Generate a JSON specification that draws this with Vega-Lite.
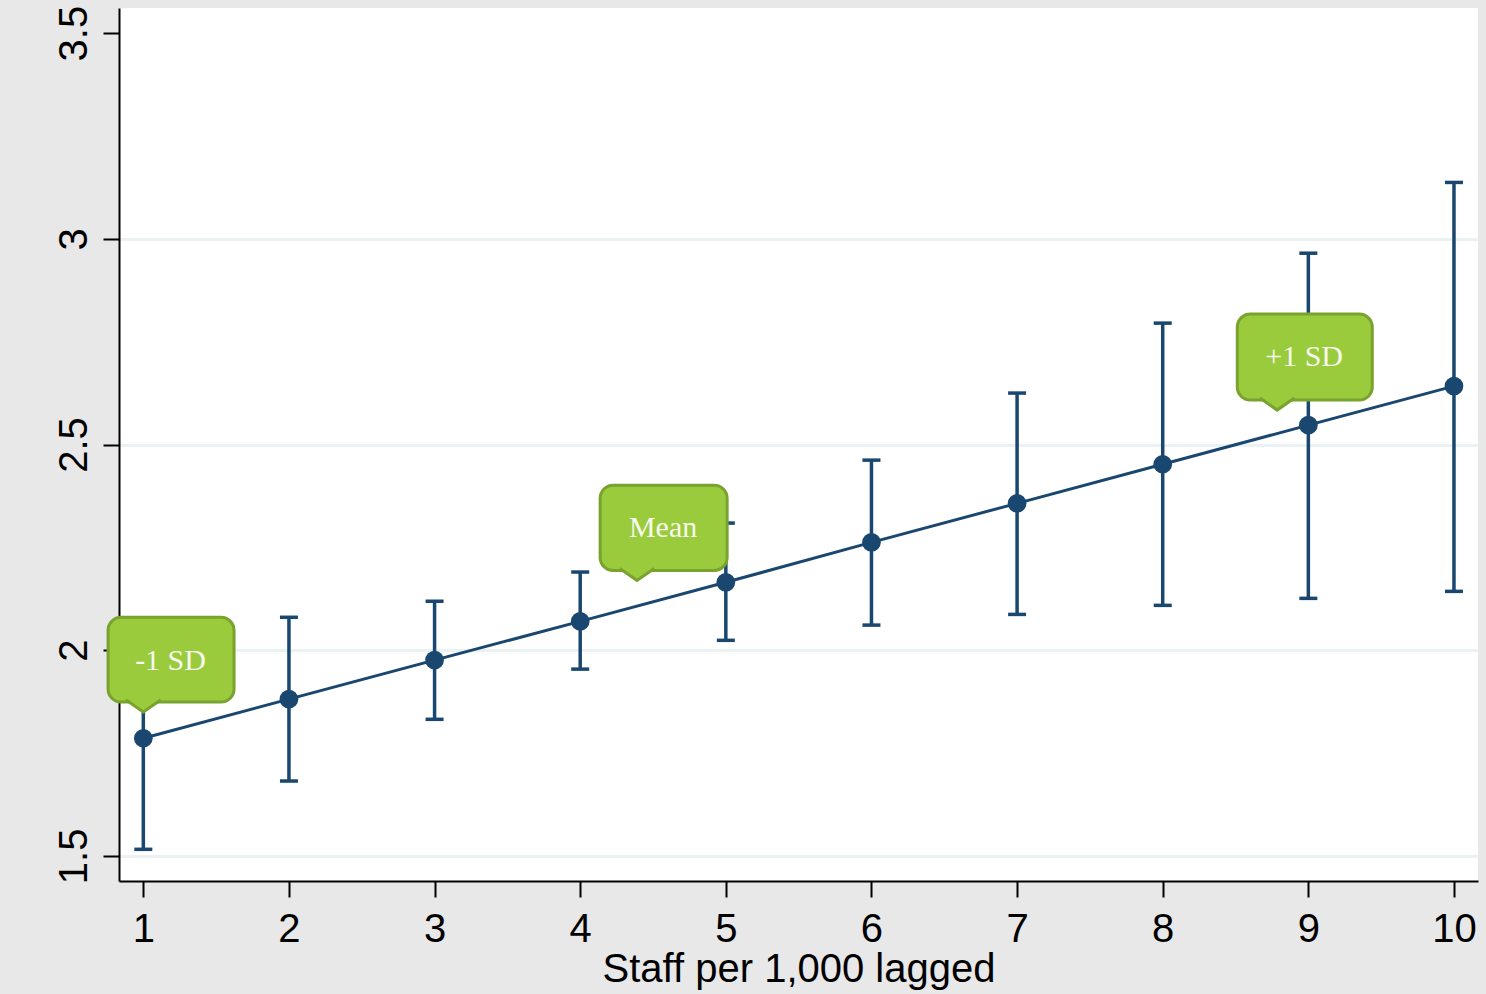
{
  "$schema": "https://vega.github.io/schema/vega-lite/v6.json",
  "autosize": {"type": "none"},
  "width": 1359,
  "height": 873,
  "padding": {"left": 119, "top": 8, "right": 8, "bottom": 113},
  "background": "#e8e8e8",
  "config": {
    "view": {"fill": "white", "stroke": null},
    "axis": {"labelFont": "Liberation Sans", "titleFont": "Liberation Sans", "labelColor": "#000000", "titleColor": "#000000"}
  },
  "datasets": {
    "pts": [
      {"staff": 1, "est": 1.786, "lo": 1.516, "hi": 2.056},
      {"staff": 2, "est": 1.881, "lo": 1.682, "hi": 2.080},
      {"staff": 3, "est": 1.976, "lo": 1.832, "hi": 2.119},
      {"staff": 4, "est": 2.070, "lo": 1.954, "hi": 2.190},
      {"staff": 5, "est": 2.165, "lo": 2.024, "hi": 2.309},
      {"staff": 6, "est": 2.262, "lo": 2.061, "hi": 2.462},
      {"staff": 7, "est": 2.357, "lo": 2.087, "hi": 2.625},
      {"staff": 8, "est": 2.452, "lo": 2.109, "hi": 2.795},
      {"staff": 9, "est": 2.547, "lo": 2.126, "hi": 2.965},
      {"staff": 10, "est": 2.642, "lo": 2.143, "hi": 3.137}
    ],
    "callouts": [
      {"label": "-1 SD", "bx1": 0.758, "bx2": 1.623, "by1": 1.874, "by2": 2.080, "tx": 1.187, "ty": 1.973, "px": 1.0, "py": 1.874},
      {"label": "Mean", "bx1": 4.137, "bx2": 5.009, "by1": 2.194, "by2": 2.401, "tx": 4.569, "ty": 2.296, "px": 4.390, "py": 2.194},
      {"label": "+1 SD", "bx1": 8.512, "bx2": 9.439, "by1": 2.608, "by2": 2.817, "tx": 8.971, "ty": 2.712, "px": 8.786, "py": 2.608}
    ]
  },
  "layer": [
    {
      "data": {"name": "pts"},
      "mark": {"type": "line", "color": "#1a476f", "strokeWidth": 3},
      "encoding": {
        "x": {
          "field": "staff", "type": "quantitative",
          "scale": {"domain": [0.833, 10.165], "nice": false, "zero": false},
          "axis": {
            "values": [1, 2, 3, 4, 5, 6, 7, 8, 9, 10],
            "format": "d",
            "grid": false,
            "title": "Staff per 1,000 lagged",
            "titleFontSize": 40, "titleFontWeight": "normal", "titlePadding": 0,
            "labelFontSize": 40, "labelPadding": 12, "labelFlush": false, "labelOverlap": false,
            "tickSize": 16, "tickWidth": 2, "tickColor": "#000000",
            "domainColor": "#000000", "domainWidth": 2
          }
        },
        "y": {
          "field": "est", "type": "quantitative",
          "scale": {"domain": [1.439, 3.561], "nice": false, "zero": false},
          "axis": {
            "values": [1.5, 2, 2.5, 3, 3.5],
            "format": "~g",
            "title": null,
            "grid": true,
            "gridColor": "#eaf2f3",
            "gridWidth": 3,
            "gridOpacity": {"condition": {"test": "datum.value > 3.4", "value": 0}, "value": 1},
            "labelFontSize": 40, "labelAngle": -90, "labelAlign": "center", "labelBaseline": "alphabetic",
            "labelPadding": 17, "labelFlush": false, "labelOverlap": false,
            "tickSize": 16, "tickWidth": 2, "tickColor": "#000000",
            "domainColor": "#000000", "domainWidth": 2
          }
        }
      }
    },
    {
      "data": {"name": "pts"},
      "mark": {"type": "rule", "color": "#1a476f", "strokeWidth": 3.5},
      "encoding": {
        "x": {"field": "staff", "type": "quantitative"},
        "y": {"field": "lo", "type": "quantitative"},
        "y2": {"field": "hi"}
      }
    },
    {
      "data": {"name": "pts"},
      "mark": {"type": "tick", "orient": "horizontal", "color": "#1a476f", "size": 18, "thickness": 3.5, "opacity": 1},
      "encoding": {
        "x": {"field": "staff", "type": "quantitative"},
        "y": {"field": "lo", "type": "quantitative"}
      }
    },
    {
      "data": {"name": "pts"},
      "mark": {"type": "tick", "orient": "horizontal", "color": "#1a476f", "size": 18, "thickness": 3.5, "opacity": 1},
      "encoding": {
        "x": {"field": "staff", "type": "quantitative"},
        "y": {"field": "hi", "type": "quantitative"}
      }
    },
    {
      "data": {"name": "pts"},
      "mark": {"type": "point", "filled": true, "color": "#1a476f", "size": 350, "opacity": 1},
      "encoding": {
        "x": {"field": "staff", "type": "quantitative"},
        "y": {"field": "est", "type": "quantitative"}
      }
    },
    {
      "data": {"name": "callouts"},
      "mark": {"type": "rect", "fill": "#9acb3c", "stroke": "#79a22e", "strokeWidth": 3, "cornerRadius": 13, "clip": false},
      "encoding": {
        "x": {"field": "bx1", "type": "quantitative"},
        "x2": {"field": "bx2"},
        "y": {"field": "by1", "type": "quantitative"},
        "y2": {"field": "by2"}
      }
    },
    {
      "data": {"name": "callouts"},
      "mark": {"type": "point", "shape": "M-1.15,-0.133L0,0.667L1.15,-0.133", "filled": true, "fill": "#9acb3c", "stroke": "#79a22e", "strokeWidth": 3, "size": 900, "opacity": 1, "strokeJoin": "miter"},
      "encoding": {
        "x": {"field": "px", "type": "quantitative"},
        "y": {"field": "py", "type": "quantitative"}
      }
    },
    {
      "data": {"name": "callouts"},
      "mark": {"type": "text", "font": "Liberation Serif", "fontSize": 30, "color": "#f7f9ee", "align": "center", "baseline": "middle"},
      "encoding": {
        "x": {"field": "tx", "type": "quantitative"},
        "y": {"field": "ty", "type": "quantitative"},
        "text": {"field": "label"}
      }
    }
  ]
}
